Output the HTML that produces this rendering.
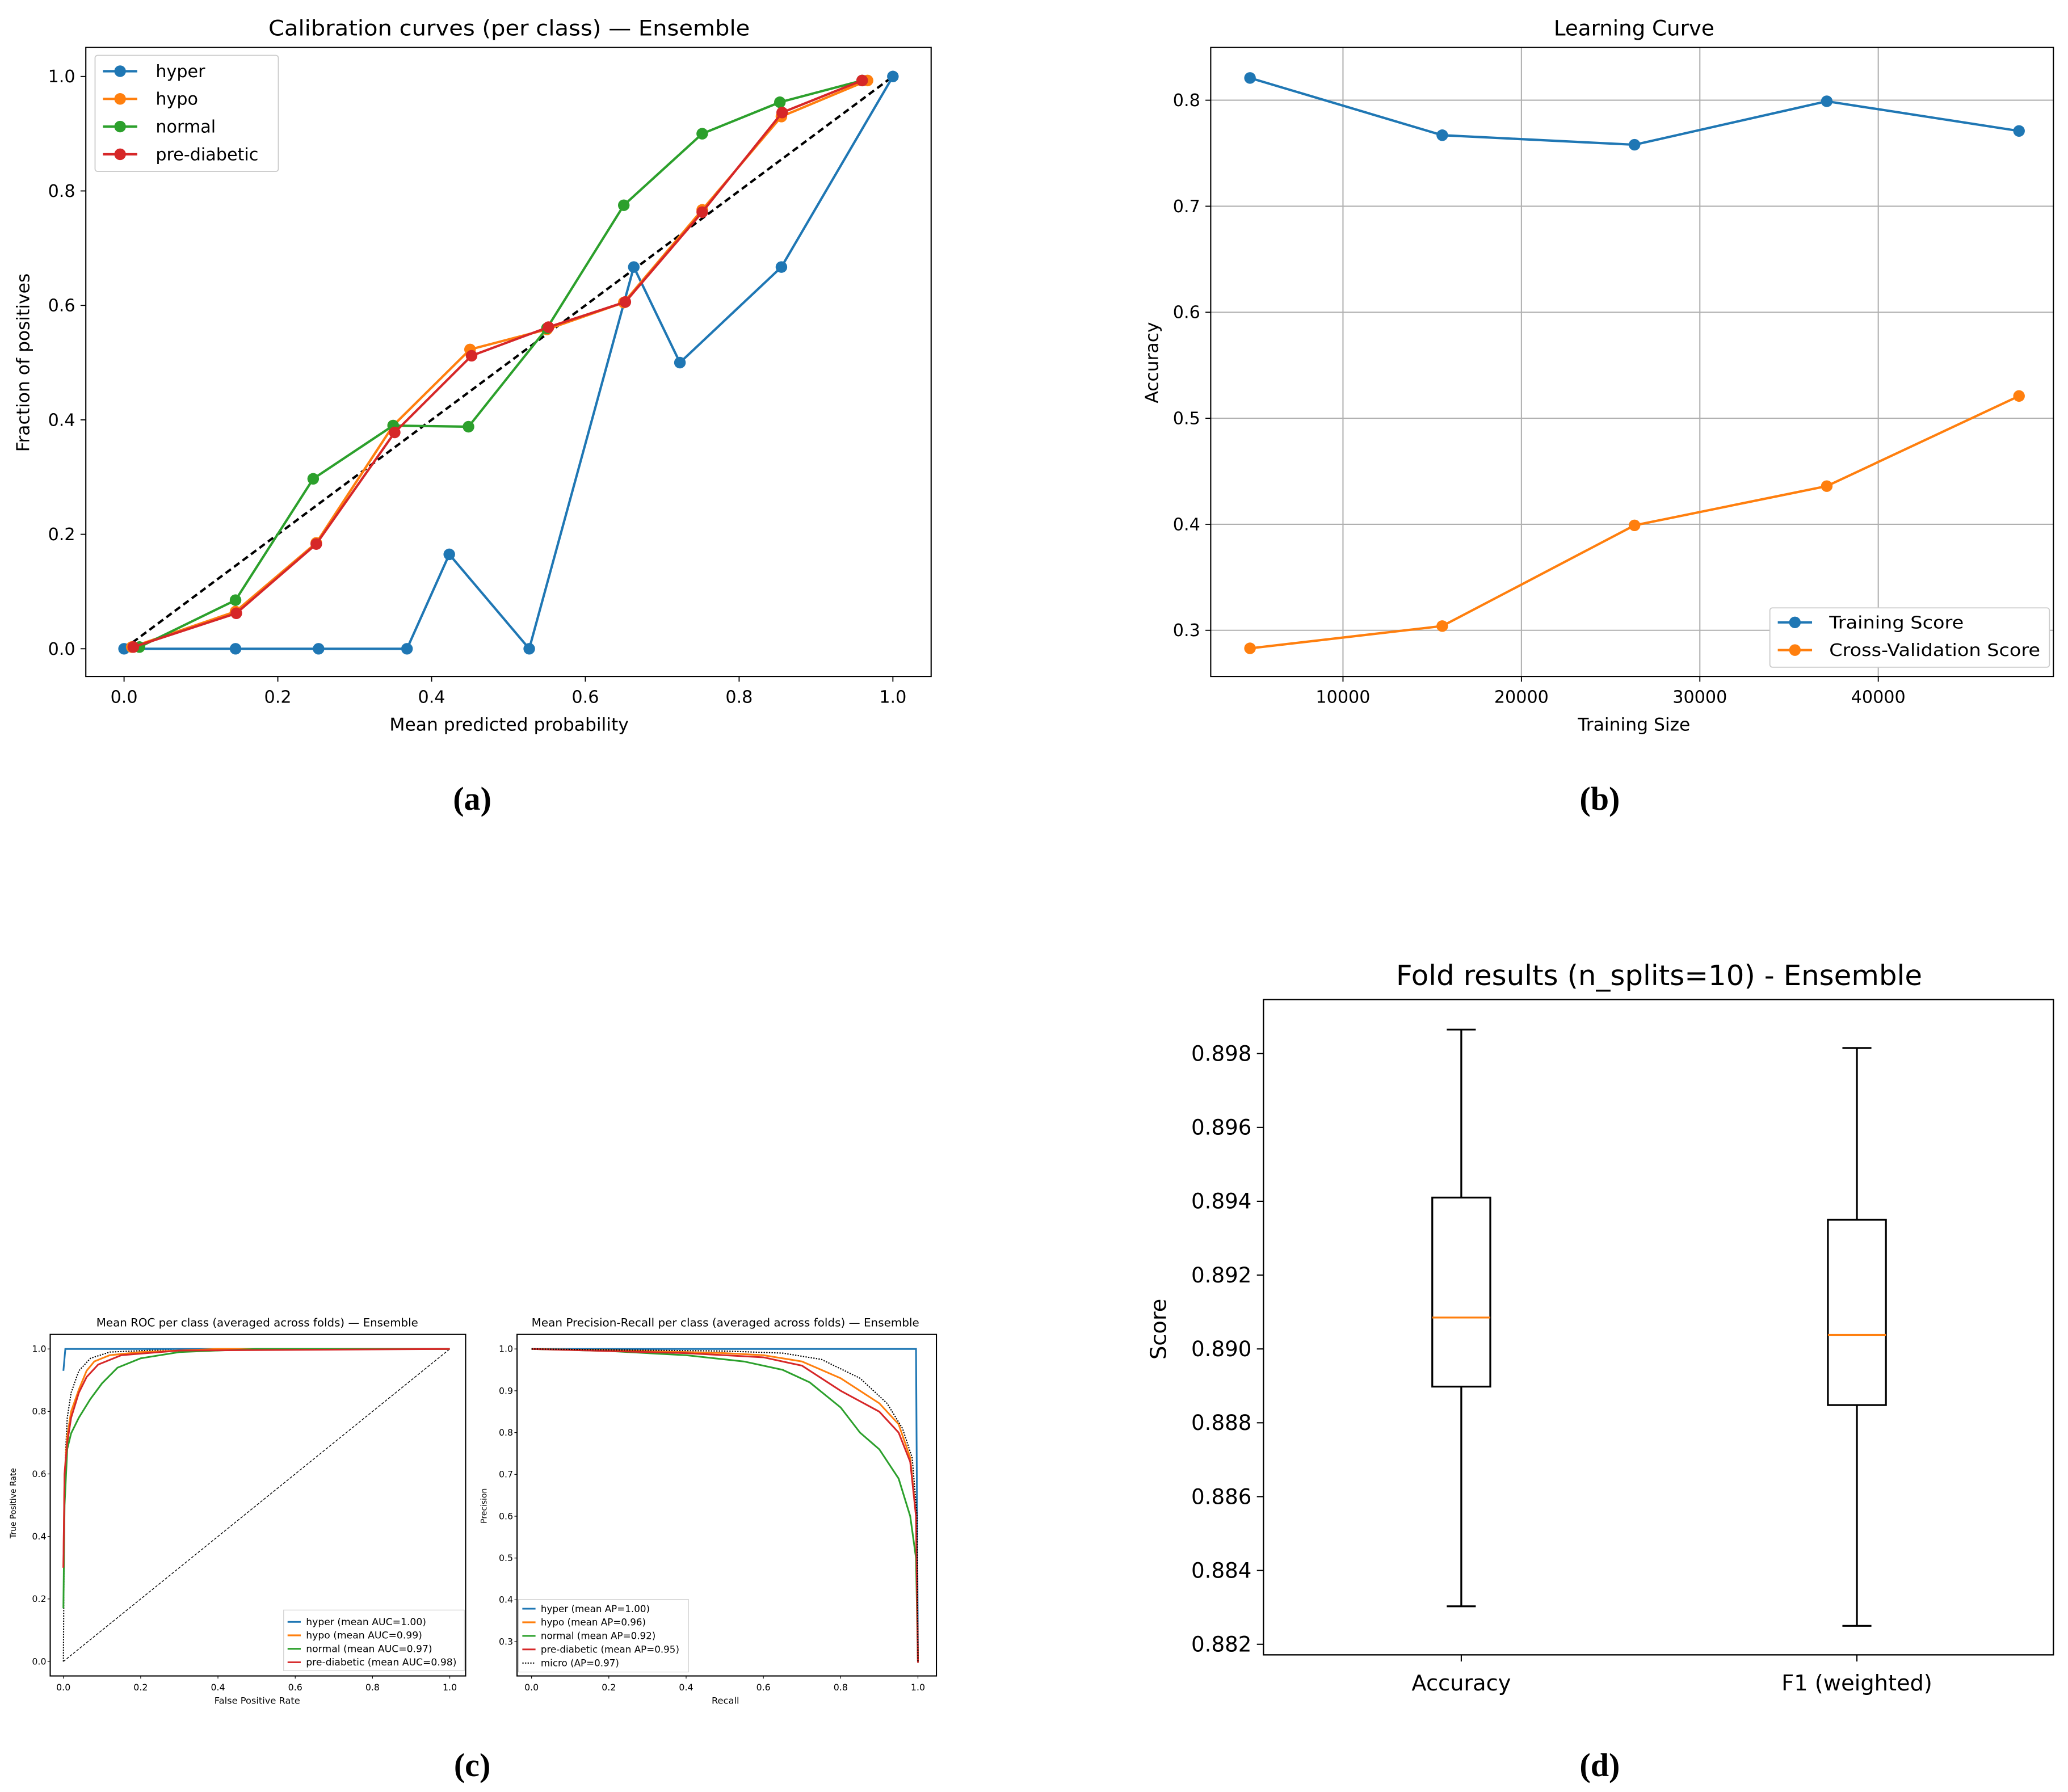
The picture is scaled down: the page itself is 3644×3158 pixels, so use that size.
<!DOCTYPE html>
<html><head><meta charset="utf-8">
<style>
html,body{margin:0;padding:0;background:#fff;}
svg{display:block;}
text{font-family:"DejaVu Sans","Liberation Sans",sans-serif;fill:#000;}
.cap{font-family:"Liberation Serif",serif;font-weight:bold;}
</style></head>
<body>
<svg id="fig" xmlns="http://www.w3.org/2000/svg" width="3644" height="3158" viewBox="0 0 1568 1359">
<rect width="1568" height="1359" fill="#fff"/>
</svg>
<script>
// ---------- Panel (a) calibration data ----------
const calNames = ["hyper","hypo","normal","pre-diabetic"];
const calHyperX = [0,0.145,0.253,0.368,0.423,0.527,0.663,0.723,0.855,1.0];
const calHyperY = [0,0,0,0,0.165,0,0.667,0.5,0.667,1.0];
const calHypoX = [0.01,0.145,0.25,0.35,0.45,0.55,0.65,0.752,0.855,0.967];
const calHypoY = [0.003,0.065,0.185,0.39,0.523,0.558,0.605,0.767,0.93,0.993];
const calNormalX = [0.02,0.145,0.246,0.35,0.448,0.55,0.65,0.752,0.853,0.96];
const calNormalY = [0.003,0.085,0.297,0.39,0.388,0.56,0.775,0.9,0.955,0.993];
const calPreX = [0.012,0.146,0.25,0.352,0.452,0.552,0.652,0.752,0.856,0.96];
const calPreY = [0.003,0.062,0.183,0.378,0.512,0.562,0.606,0.763,0.937,0.993];
const calTicks = [0,0.2,0.4,0.6,0.8,1.0];
// ---------- Panel (b) learning curve ----------
const lcSizes = [4789,15564,26339,37114,47889];
const lcTrain = [0.821,0.767,0.758,0.799,0.771];
const lcCV = [0.283,0.304,0.399,0.436,0.521];
const lcXTicks = [10000,20000,30000,40000];
const lcYTicks = [0.3,0.4,0.5,0.6,0.7,0.8];
// ---------- Panel (c) ROC ----------
const rocHyperX=[0,0.005,1], rocHyperY=[0.93,1,1];
const rocHypoX=[0,0.003,0.01,0.02,0.04,0.06,0.08,0.12,0.2,0.4,1];
const rocHypoY=[0.3,0.6,0.72,0.8,0.87,0.93,0.96,0.98,0.99,1,1];
const rocNormalX=[0,0.003,0.01,0.02,0.04,0.07,0.1,0.14,0.2,0.3,0.5,1];
const rocNormalY=[0.17,0.5,0.68,0.73,0.78,0.84,0.89,0.94,0.97,0.99,1,1];
const rocPreX=[0,0.003,0.01,0.02,0.04,0.06,0.09,0.15,0.3,1];
const rocPreY=[0.3,0.6,0.7,0.78,0.86,0.91,0.95,0.98,0.995,1];
const rocMicroX=[0,0.002,0.005,0.01,0.02,0.04,0.07,0.12,0.3,1];
const rocMicroY=[0,0.4,0.65,0.78,0.86,0.93,0.97,0.99,1,1];
const rocLabels=["hyper (mean AUC=1.00)","hypo (mean AUC=0.99)","normal (mean AUC=0.97)","pre-diabetic (mean AUC=0.98)"];
const rocTicks=[0,0.2,0.4,0.6,0.8,1.0];
// ---------- Panel (c) PR ----------
const prHyperX=[0,0.995,1], prHyperY=[1,1,0.25];
const prHypoX=[0,0.3,0.5,0.6,0.7,0.8,0.9,0.95,0.98,0.995,1];
const prHypoY=[1,0.995,0.99,0.985,0.97,0.93,0.87,0.82,0.74,0.6,0.25];
const prNormalX=[0,0.2,0.4,0.55,0.65,0.72,0.8,0.85,0.9,0.95,0.98,0.995,1];
const prNormalY=[1,0.995,0.985,0.97,0.95,0.92,0.86,0.8,0.76,0.69,0.6,0.5,0.25];
const prPreX=[0,0.4,0.6,0.7,0.8,0.9,0.95,0.98,0.995,1];
const prPreY=[1,0.99,0.98,0.96,0.9,0.85,0.8,0.73,0.6,0.25];
const prMicroX=[0,0.5,0.65,0.75,0.85,0.92,0.96,0.985,0.998,1];
const prMicroY=[1,0.995,0.99,0.975,0.93,0.87,0.81,0.74,0.6,0.25];
const prLabels=["hyper (mean AP=1.00)","hypo (mean AP=0.96)","normal (mean AP=0.92)","pre-diabetic (mean AP=0.95)","micro (AP=0.97)"];
const prXTicks=[0,0.2,0.4,0.6,0.8,1.0];
const prYTicks=[0.3,0.4,0.5,0.6,0.7,0.8,0.9,1.0];
// ---------- Panel (d) boxplot ----------
const boxCats=["Accuracy","F1 (weighted)"];
const boxLow=[0.88303,0.8825];
const boxQ1=[0.88898,0.88848];
const boxMed=[0.89085,0.89038];
const boxQ3=[0.8941,0.8935];
const boxHigh=[0.89865,0.89815];
const boxYTicks=[0.882,0.884,0.886,0.888,0.890,0.892,0.894,0.896,0.898];

const C=["#1f77b4","#ff7f0e","#2ca02c","#d62728"];
const NS="http://www.w3.org/2000/svg";
const svg=document.getElementById("fig");
function el(tag,attrs,parent,txt){const e=document.createElementNS(NS,tag);for(const k in attrs)e.setAttribute(k,attrs[k]);if(txt!==undefined)e.textContent=txt;(parent||svg).appendChild(e);return e;}
function lin(d0,d1,r0,r1){return v=>r0+(v-d0)/(d1-d0)*(r1-r0);}
function pts(xs,ys,sx,sy){return xs.map((x,i)=>sx(x).toFixed(2)+","+sy(ys[i]).toFixed(2)).join(" ");}
function txt(x,y,s,size,anchor,parent,extra){const t=el("text",Object.assign({x:x,y:y,"font-size":size,"text-anchor":anchor||"middle"},extra||{}),parent,s);return t;}

// ===== Panel (a) =====
(function(){
 const g=el("g",{});
 
 
 const sx=lin(0,1,94,677), sy=lin(0,1,492,58);
 const t=txt(386,27,"Calibration curves (per class) — Ensemble",16,"middle",g,{textLength:365,lengthAdjust:"spacingAndGlyphs"});
 
 
 calTicks.forEach(v=>{
  el("line",{x1:sx(v),x2:sx(v),y1:513,y2:517,stroke:"#000","stroke-width":0.8},g);
  txt(sx(v),533,v.toFixed(1),13,"middle",g);
  el("line",{x1:61,x2:65,y1:sy(v),y2:sy(v),stroke:"#000","stroke-width":0.8},g);
  txt(57,sy(v)+4.5,v.toFixed(1),13,"end",g);
 });
 const xl=txt(386,554,"Mean predicted probability",13.5,"middle",g);
 
 
 const yl=txt(0,0,"Fraction of positives",13.5,"middle",g,{transform:"translate(22,275) rotate(-90)"});
 
 
 el("line",{x1:sx(0),y1:sy(0),x2:sx(1),y2:sy(1),stroke:"#000","stroke-width":1.8,"stroke-dasharray":"5,3"},g);
 const series=[[calHyperX,calHyperY],[calHypoX,calHypoY],[calNormalX,calNormalY],[calPreX,calPreY]];
 series.forEach((s,i)=>{
  const pl=el("polyline",{points:pts(s[0],s[1],sx,sy),fill:"none",stroke:C[i],"stroke-width":1.8},g);
  
  
  s[0].forEach((x,j)=>el("circle",{cx:sx(x),cy:sy(s[1][j]),r:4.4,fill:C[i]},g));
 });
 el("rect",{x:65,y:36,width:641,height:477,fill:"none",stroke:"#000","stroke-width":0.9},g);
 const lg=el("g",{},g);
 
 
 el("rect",{x:72,y:42,width:139,height:88,rx:2,fill:"#fff",stroke:"#ccc","stroke-width":0.8},lg);
 calNames.forEach((n,i)=>{const y=54+i*21;
  el("line",{x1:78,x2:104,y1:y,y2:y,stroke:C[i],"stroke-width":1.8},lg);
  el("circle",{cx:91,cy:y,r:4.4,fill:C[i]},lg);
  const e=txt(118,y+4.5,n,13,"start",lg);
  
  
 });
 const cp=txt(358,614,"(a)",25,"middle",g,{class:"cap"});
 
 
})();

// ===== Panel (b) =====
(function(){
 const g=el("g",{});
 
 
 const sx=lin(0,10000,883,1018.3), sy=lin(0.3,0.8,478,76);
 const t=txt(1239,27,"Learning Curve",16,"middle",g);
 
 
 lcXTicks.forEach(v=>{
  el("line",{x1:sx(v),x2:sx(v),y1:36,y2:513,stroke:"#b0b0b0","stroke-width":0.9},g);
  el("line",{x1:sx(v),x2:sx(v),y1:513,y2:517,stroke:"#000","stroke-width":0.8},g);
  txt(sx(v),533,String(v),13,"middle",g);
 });
 lcYTicks.forEach(v=>{
  el("line",{x1:918,x2:1557,y1:sy(v),y2:sy(v),stroke:"#b0b0b0","stroke-width":0.9},g);
  el("line",{x1:914,x2:918,y1:sy(v),y2:sy(v),stroke:"#000","stroke-width":0.8},g);
  txt(910,sy(v)+4.5,v.toFixed(1),13,"end",g);
 });
 const xl=txt(1239,554,"Training Size",13.5,"middle",g);
 
 
 const yl=txt(0,0,"Accuracy",13.5,"middle",g,{transform:"translate(878,275) rotate(-90)"});
 
 
 [[lcTrain,0,"training-score-line"],[lcCV,1,"cv-score-line"]].forEach(s=>{
  const pl=el("polyline",{points:pts(lcSizes,s[0],sx,sy),fill:"none",stroke:C[s[1]],"stroke-width":1.8},g);
  
  
  lcSizes.forEach((x,j)=>el("circle",{cx:sx(x),cy:sy(s[0][j]),r:4.4,fill:C[s[1]]},g));
 });
 el("rect",{x:918,y:36,width:639,height:477,fill:"none",stroke:"#000","stroke-width":0.9},g);
 const lg=el("g",{},g);
 
 
 el("rect",{x:1342,y:461,width:212,height:45,rx:2,fill:"#fff",stroke:"#ccc","stroke-width":0.8},lg);
 ["Training Score","Cross-Validation Score"].forEach((n,i)=>{const y=472+i*21;
  el("line",{x1:1348,x2:1374,y1:y,y2:y,stroke:C[i],"stroke-width":1.8},lg);
  el("circle",{cx:1361,cy:y,r:4.4,fill:C[i]},lg);
  txt(1387,y+4.5,n,13,"start",lg,{textLength:i?160:102,lengthAdjust:"spacingAndGlyphs"});
 });
 const cp=txt(1213,614,"(b)",25,"middle",g,{class:"cap"});
 
 
})();

// ===== Panel (c) ROC =====
(function(){
 const g=el("g",{});
 
 
 const sx=lin(0,1,48,341), sy=lin(0,1,1260,1023);
 txt(195,1006,"Mean ROC per class (averaged across folds) — Ensemble",8.5,"middle",g,{textLength:244,lengthAdjust:"spacingAndGlyphs"});
 rocTicks.forEach(v=>{
  el("line",{x1:sx(v),x2:sx(v),y1:1271,y2:1273,stroke:"#000","stroke-width":0.5},g);
  txt(sx(v),1282,v.toFixed(1),6.8,"middle",g);
  el("line",{x1:36,x2:38,y1:sy(v),y2:sy(v),stroke:"#000","stroke-width":0.5},g);
  txt(35,sy(v)+2.3,v.toFixed(1),6.8,"end",g);
 });
 txt(195,1292,"False Positive Rate",7,"middle",g);
 txt(0,0,"True Positive Rate",6,"middle",g,{transform:"translate(12,1140) rotate(-90)"});
 el("line",{x1:sx(0),y1:sy(0),x2:sx(1),y2:sy(1),stroke:"#000","stroke-width":0.6,"stroke-dasharray":"2,1.2"},g);
 el("polyline",{points:pts(rocMicroX,rocMicroY,sx,sy),fill:"none",stroke:"#000","stroke-width":0.9,"stroke-dasharray":"1,1"},g);
 [[rocHyperX,rocHyperY],[rocHypoX,rocHypoY],[rocNormalX,rocNormalY],[rocPreX,rocPreY]].forEach((s,i)=>{
  const pl=el("polyline",{points:pts(s[0],s[1],sx,sy),fill:"none",stroke:C[i],"stroke-width":1.3},g);
  
  
 });
 el("rect",{x:38,y:1012,width:315,height:259,fill:"none",stroke:"#000","stroke-width":0.9},g);
 const lg=el("g",{},g);
 
 
 el("rect",{x:215,y:1221,width:137,height:46,fill:"#fff",stroke:"#ccc","stroke-width":0.5},lg);
 rocLabels.forEach((n,i)=>{const y=1230+i*10.2;
  el("line",{x1:218,x2:228,y1:y,y2:y,stroke:C[i],"stroke-width":1.3},lg);
  txt(232,y+2.5,n,7.4,"start",lg);
 });
 const cp=txt(358,1347,"(c)",25,"middle",svg,{class:"cap"});
 
 
})();

// ===== Panel (c) PR =====
(function(){
 const g=el("g",{});
 
 
 const sx=lin(0,1,403,696), sy=lin(0.3,1,1245,1023);
 txt(550,1006,"Mean Precision-Recall per class (averaged across folds) — Ensemble",8.5,"middle",g,{textLength:294,lengthAdjust:"spacingAndGlyphs"});
 prXTicks.forEach(v=>{
  el("line",{x1:sx(v),x2:sx(v),y1:1271,y2:1273,stroke:"#000","stroke-width":0.5},g);
  txt(sx(v),1282,v.toFixed(1),6.8,"middle",g);
 });
 prYTicks.forEach(v=>{
  el("line",{x1:390,x2:392,y1:sy(v),y2:sy(v),stroke:"#000","stroke-width":0.5},g);
  txt(389,sy(v)+2.3,v.toFixed(1),6.8,"end",g);
 });
 txt(550,1292,"Recall",7,"middle",g);
 txt(0,0,"Precision",6,"middle",g,{transform:"translate(369,1142) rotate(-90)"});
 [[prHyperX,prHyperY],[prHypoX,prHypoY],[prNormalX,prNormalY],[prPreX,prPreY]].forEach((s,i)=>{
  const pl=el("polyline",{points:pts(s[0],s[1],sx,sy),fill:"none",stroke:C[i],"stroke-width":1.3},g);
  
  
 });
 el("polyline",{points:pts(prMicroX,prMicroY,sx,sy),fill:"none",stroke:"#000","stroke-width":0.9,"stroke-dasharray":"1,1"},g);
 el("rect",{x:392,y:1012,width:318,height:259,fill:"none",stroke:"#000","stroke-width":0.9},g);
 const lg=el("g",{},g);
 
 
 el("rect",{x:393,y:1213,width:129,height:55,fill:"#fff",stroke:"#ccc","stroke-width":0.5},lg);
 prLabels.forEach((n,i)=>{const y=1220+i*10.3;
  const a={x1:396,x2:406,y1:y,y2:y,stroke:i<4?C[i]:"#000","stroke-width":i<4?1.3:0.9};
  if(i===4)a["stroke-dasharray"]="1,1";
  el("line",a,lg);
  txt(410,y+2.5,n,7.2,"start",lg);
 });
})();

// ===== Panel (d) =====
(function(){
 const g=el("g",{});
 
 
 const sy=lin(0.882,0.898,1247,799);
 const xs=[1108,1408];
 const t=txt(1258,747,"Fold results (n_splits=10) - Ensemble",21,"middle",g,{textLength:399,lengthAdjust:"spacingAndGlyphs"});
 
 
 boxYTicks.forEach(v=>{
  el("line",{x1:953,x2:958,y1:sy(v),y2:sy(v),stroke:"#000","stroke-width":0.9},g);
  txt(949,sy(v)+5.5,v.toFixed(3),16,"end",g);
 });
 const yl=txt(0,0,"Score",16.5,"middle",g,{transform:"translate(884,1008) rotate(-90)"});
 
 
 boxCats.forEach((c,i)=>{
  const x=xs[i];
  el("line",{x1:x,x2:x,y1:1255,y2:1260,stroke:"#000","stroke-width":0.9},g);
  const l=txt(x,1282,c,16.5,"middle",g);
  
  
  const b=el("g",{},g);
  
  
  el("line",{x1:x,x2:x,y1:sy(boxHigh[i]),y2:sy(boxQ3[i]),stroke:"#000","stroke-width":1.4},b);
  el("line",{x1:x,x2:x,y1:sy(boxQ1[i]),y2:sy(boxLow[i]),stroke:"#000","stroke-width":1.4},b);
  el("line",{x1:x-11,x2:x+11,y1:sy(boxHigh[i]),y2:sy(boxHigh[i]),stroke:"#000","stroke-width":1.4},b);
  el("line",{x1:x-11,x2:x+11,y1:sy(boxLow[i]),y2:sy(boxLow[i]),stroke:"#000","stroke-width":1.4},b);
  el("rect",{x:x-22,y:sy(boxQ3[i]),width:44,height:sy(boxQ1[i])-sy(boxQ3[i]),fill:"none",stroke:"#000","stroke-width":1.4},b);
  el("line",{x1:x-22,x2:x+22,y1:sy(boxMed[i]),y2:sy(boxMed[i]),stroke:"#ff7f0e","stroke-width":1.4},b);
 });
 el("rect",{x:958,y:758,width:599,height:497,fill:"none",stroke:"#000","stroke-width":1},g);
 const cp=txt(1213,1347,"(d)",25,"middle",g,{class:"cap"});
 
 
})();
</script>
</body></html>
